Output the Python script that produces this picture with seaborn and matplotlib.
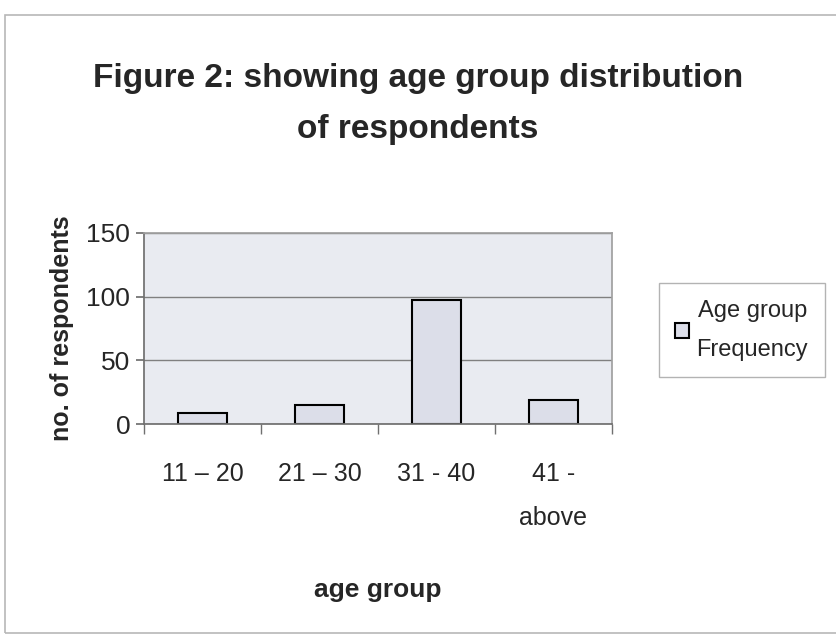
"""Bar chart of respondents by age group"""

import numpy as np
import pandas as pd
import seaborn as sns
import matplotlib.pyplot as plt
from matplotlib.patches import Rectangle
from matplotlib import font_manager

age_groups = ['11 \u2013 20', '21 \u2013 30', '31 - 40', '41 -\nabove']
frequency = [9, 15, 97, 19]
series_name = 'Age group\nFrequency'

sns.set_theme(style='white')
names = {f.name for f in font_manager.fontManager.ttflist}
family = 'Liberation Sans Narrow' if 'Liberation Sans Narrow' in names else 'Liberation Sans'
plt.rcParams['font.family'] = [family, 'DejaVu Sans']

df = pd.DataFrame({'age group': age_groups, 'no. of respondents': frequency})

fig = plt.figure(figsize=(8.36, 6.38), dpi=100)
fig.patches.append(Rectangle((0.006, 0.008), 1.0, 0.968, transform=fig.transFigure,
                             fill=False, edgecolor='#b8b8b8', linewidth=1.2))
ax = fig.add_axes([0.1725, 0.3354, 0.5595, 0.2994])
ax.set_facecolor('#e9ebf1')

sns.barplot(data=df, x='age group', y='no. of respondents', ax=ax, width=0.42,
            color='#dcdee9', edgecolor='black', linewidth=1.5, label=series_name,
            saturation=1)

ax.set_ylim(0, 150)
ax.set_yticks([0, 50, 100, 150])
ax.set_xlim(-0.5, len(age_groups) - 0.5)
ax.yaxis.grid(True, color='#808080', linewidth=1)
ax.set_axisbelow(True)
for side in ['top', 'right']:
    ax.spines[side].set_color('#a0a0a0')
for side in ['left', 'bottom']:
    ax.spines[side].set_color('#707070')

ax.tick_params(axis='y', labelsize=19, length=6, left=True, color='#707070', pad=4)
ax.tick_params(axis='x', labelsize=18, length=0, pad=27)
# boundary ticks between categories
ax.set_xticks(np.arange(-0.5, len(age_groups)), minor=True)
ax.tick_params(axis='x', which='minor', length=7, bottom=True, color='#707070')
for lbl in ax.get_xticklabels():
    lbl.set_verticalalignment('top')
    lbl.set_multialignment('center')
    lbl.set_linespacing(2.1)

ax.set_xlabel('age group', fontsize=19, fontweight='bold', labelpad=34)
ax.set_ylabel('no. of respondents', fontsize=18, fontweight='bold', labelpad=9)

fig.text(0.5, 1 - 63 / 638, 'Figure 2: showing age group distribution\nof respondents',
         ha='center', va='top', fontsize=24, fontweight='bold', linespacing=1.85)

leg = ax.legend(loc='center left', bbox_to_anchor=(1.1, 0.49), fontsize=17,
                frameon=True, fancybox=False, edgecolor='#a0a0a0',
                handlelength=0.6, handleheight=0.6, handletextpad=0.3,
                borderpad=0.7, borderaxespad=0)
for t in leg.get_texts():
    t.set_multialignment('center')
    t.set_linespacing(2.0)

plt.savefig('out.png', dpi=100)
